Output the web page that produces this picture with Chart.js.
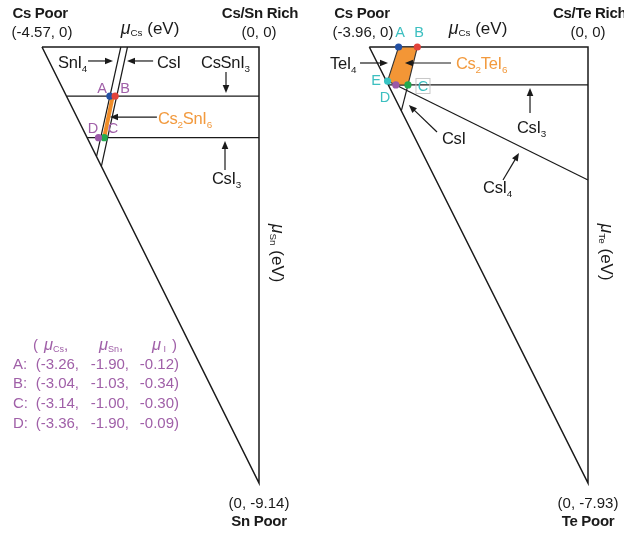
<!DOCTYPE html>
<html><head><meta charset="utf-8">
<script src="https://cdn.jsdelivr.net/npm/chart.js@4/dist/chart.umd.min.js"></script>
<style>
html,body{margin:0;padding:0;background:#fff;}
#wrap{display:flex;width:624px;height:533px;}
canvas{display:block;}
</style></head><body>
<div id="wrap"><canvas id="c1" width="312" height="533"></canvas><canvas id="c2" width="312" height="533"></canvas></div>
<script>
// ---------------- Cs-Sn-I panel (eV) ----------------
const snRangeCs = [-4.57, 0];
const snRangeSn = [-9.14, 0];
const snTriangleX = [-4.57, 0, 0, -4.57];
const snTriangleY = [0, 0, -9.14, 0];
const snCsSnI3LineX = [-4.05, 0];
const snCsSnI3LineY = [-1.03, -1.03];
const snCsI3LineX = [-3.62, 0];
const snCsI3LineY = [-1.90, -1.90];
const snSnI4LineX = [-2.91, -3.42];
const snSnI4LineY = [0, -2.29];
const snCsILineX = [-2.77, -3.32];
const snCsILineY = [0, -2.50];
const snStableX = [-3.26, -3.08];
const snStableY = [-1.90, -1.03];
const snPointNames = ['A', 'B', 'C', 'D'];
const snPointX = [-3.14, -3.03, -3.26, -3.38];
const snPointY = [-1.03, -1.03, -1.90, -1.90];
const snTableCs = ['-3.26', '-3.04', '-3.14', '-3.36'];
const snTableSn = ['-1.90', '-1.03', '-1.00', '-1.90'];
const snTableI = ['-0.12', '-0.34', '-0.30', '-0.09'];

// ---------------- Cs-Te-I panel (eV) ----------------
const teRangeCs = [-3.96, 0];
const teRangeTe = [-7.93, 0];
const teTriangleX = [-3.96, 0, 0, -3.96];
const teTriangleY = [0, 0, -7.93, 0];
const teCsI3LineX = [-3.615, 0];
const teCsI3LineY = [-0.69, -0.69];
const teCsILineX = [-3.26, -3.38];
const teCsILineY = [-0.69, -1.16];
const teCsI4LineX = [-3.48, 0];
const teCsI4LineY = [-0.69, -2.42];
const tePointNames = ['A', 'B', 'C', 'D', 'E'];
const tePointCs = [-3.43, -3.09, -3.26, -3.48, -3.63];
const tePointTe = [0.00, 0.00, -0.69, -0.69, -0.62];
const tePointI = [-0.18, -0.29, -0.12, -0.04, -0.01];

// ---------------- styling ----------------
const FONT = '"Liberation Sans", Arial, Helvetica, sans-serif';
const INK = '#1a1a1a';
const ORANGE = '#f29a3e';
const PURPLE = '#a060a8';
const TEAL = '#3cbfc0';
const DOT = {A: '#2350a3', B: '#e2433a', C: '#22aa4e', D: '#9b59a8', E: '#36c3c3'};

function pts(xs, ys) { return xs.map((x, i) => ({x: x, y: ys[i]})); }
function lineDS(xs, ys, color, width, order) {
  return {data: pts(xs, ys), showLine: true, borderColor: color, borderWidth: width,
    pointRadius: 0, fill: false, clip: false, tension: 0, order: order};
}
function pointDS(xs, ys, names, order) {
  return {data: pts(xs, ys), showLine: false, pointRadius: 3.6, pointBorderWidth: 0,
    pointBackgroundColor: names.map(n => DOT[n]), pointBorderColor: names.map(n => DOT[n]),
    clip: false, order: order};
}

function fontStr(size, bold, ital) {
  return (ital ? 'italic ' : '') + (bold ? 'bold ' : '') + size + 'px ' + FONT;
}
function parseRich(s) {
  const segs = []; let buf = ''; let i = 0;
  const push = (t, sub) => { if (t) segs.push({t: t, sub: sub}); };
  while (i < s.length) {
    const ch = s[i];
    if (ch === '_') {
      push(buf, false); buf = '';
      if (s[i + 1] === '{') { const j = s.indexOf('}', i); push(s.slice(i + 2, j), true); i = j + 1; }
      else { push(s[i + 1], true); i += 2; }
      continue;
    }
    buf += ch; i++;
  }
  push(buf, false);
  return segs;
}
function drawRich(ctx, s, x, y, opt) {
  const o = Object.assign({size: 15, bold: false, color: INK, align: 'center', subScale: 0.6,
    subDy: 0.26, spacing: '-0.3px', muScale: 1.05}, opt || {});
  ctx.save();
  try { ctx.letterSpacing = o.spacing; } catch (e) {}
  const pieces = [];
  parseRich(s).forEach(seg => {
    if (seg.sub) pieces.push({t: seg.t, size: o.size * o.subScale, dy: o.size * o.subDy, ital: false});
    else seg.t.split(/(μ)/).forEach(p => {
      if (p) pieces.push({t: p, size: p === 'μ' ? o.size * o.muScale : o.size, dy: 0, ital: p === 'μ'});
    });
  });
  let w = 0;
  pieces.forEach(p => { ctx.font = fontStr(p.size, o.bold, p.ital); p.w = ctx.measureText(p.t).width; w += p.w; });
  let cx = o.align === 'center' ? x - w / 2 : (o.align === 'right' ? x - w : x);
  const base = y + o.size * 0.36;
  ctx.fillStyle = o.color; ctx.textBaseline = 'alphabetic'; ctx.textAlign = 'left';
  pieces.forEach(p => { ctx.font = fontStr(p.size, o.bold, p.ital); ctx.fillText(p.t, cx, base + p.dy); cx += p.w; });
  ctx.restore();
  return w;
}
function drawArrow(ctx, x1, y1, x2, y2) {
  const a = Math.atan2(y2 - y1, x2 - x1), L = 8, W = 3.3;
  ctx.save();
  ctx.strokeStyle = INK; ctx.fillStyle = INK; ctx.lineWidth = 1.2;
  ctx.beginPath(); ctx.moveTo(x1, y1); ctx.lineTo(x2 - Math.cos(a) * L * 0.7, y2 - Math.sin(a) * L * 0.7); ctx.stroke();
  ctx.beginPath(); ctx.moveTo(x2, y2);
  ctx.lineTo(x2 - L * Math.cos(a) + W * Math.sin(a), y2 - L * Math.sin(a) - W * Math.cos(a));
  ctx.lineTo(x2 - L * Math.cos(a) - W * Math.sin(a), y2 - L * Math.sin(a) + W * Math.cos(a));
  ctx.closePath(); ctx.fill();
  ctx.restore();
}

// annotation plugin (texts & arrows placed in data units)
function annotPlugin(spec) {
  return {
    id: 'annot',
    afterDatasetsDraw(chart) {
      const ctx = chart.ctx, X = chart.scales.x, Y = chart.scales.y;
      const px = v => X.getPixelForValue(v), py = v => Y.getPixelForValue(v);
      spec.arrows.forEach(a => drawArrow(ctx, px(a[0]), py(a[1]), px(a[2]), py(a[3])));
      spec.texts.forEach(t => {
        const o = Object.assign({}, t.o || {});
        if (t.box) {
          ctx.save(); ctx.strokeStyle = '#c8c8c8'; ctx.lineWidth = 1;
          ctx.strokeRect(px(t.x) - 7, py(t.y) - 7.5, 14, 15); ctx.restore();
        }
        if (t.rot) {
          ctx.save(); ctx.translate(px(t.x), py(t.y)); ctx.rotate(Math.PI / 2);
          drawRich(ctx, t.s, 0, 0, o); ctx.restore();
        } else drawRich(ctx, t.s, px(t.x), py(t.y), o);
      });
      spec.table(ctx);
    }
  };
}

const TITLE = {bold: true, size: 15};
const COORD = {size: 15, spacing: '0px'};
const AXIS = {size: 17, subScale: 0.58, subDy: 0.1, spacing: '0px'};
const LAB = {size: 16.5, align: 'left'};
const PLAB = {size: 14.5, spacing: '0px'};

function drawTable(ctx, color, headX, head, rowLabelX, colRight, rows) {
  const hs = {size: 15, align: 'left', color: color, subScale: 0.6, subDy: 0.12, spacing: '0px', muScale: 1.1};
  head.forEach((h, i) => drawRich(ctx, h, headX[i], 345, hs));
  rows.forEach((r, k) => {
    const y = 363.3 + k * 19.6;
    drawRich(ctx, r[0] + ':', rowLabelX, y, {size: 15, align: 'left', color: color, spacing: '0px'});
    for (let c = 1; c < r.length; c++)
      drawRich(ctx, r[c], colRight[c - 1], y, {size: 15, align: 'right', color: color, spacing: '0px'});
  });
}

const snSpec = {
  texts: [
    {s: 'Cs Poor', x: -4.61, y: 0.713, o: TITLE},
    {s: '(-4.57, 0)', x: -4.57, y: 0.314, o: COORD},
    {s: 'μ_{Cs} (eV)', x: -2.295, y: 0.398, o: AXIS},
    {s: 'Cs/Sn Rich', x: 0.02, y: 0.713, o: TITLE},
    {s: '(0, 0)', x: 0, y: 0.314, o: COORD},
    {s: 'SnI_4', x: -4.233, y: -0.314, o: LAB},
    {s: 'CsI', x: -2.148, y: -0.314, o: LAB},
    {s: 'CsSnI_3', x: -1.221, y: -0.314, o: LAB},
    {s: 'A', x: -3.306, y: -0.86, o: Object.assign({color: PURPLE}, PLAB)},
    {s: 'B', x: -2.822, y: -0.86, o: Object.assign({color: PURPLE}, PLAB)},
    {s: 'Cs_2SnI_6', x: -2.127, y: -1.488, o: Object.assign({color: ORANGE}, LAB)},
    {s: 'D', x: -3.496, y: -1.698, o: Object.assign({color: PURPLE}, PLAB)},
    {s: 'C', x: -3.075, y: -1.698, o: Object.assign({color: PURPLE}, PLAB)},
    {s: 'CsI_3', x: -0.99, y: -2.746, o: LAB},
    {s: 'μ_{Sn} (eV)', x: 0.4, y: -4.32, rot: true, o: AXIS},
    {s: '(0, -9.14)', x: 0, y: -9.56, o: COORD},
    {s: 'Sn Poor', x: 0, y: -9.937, o: TITLE}
  ],
  arrows: [
    [-3.60, -0.293, -3.075, -0.293],
    [-2.23, -0.293, -2.78, -0.293],
    [-0.695, -0.524, -0.695, -0.964],
    [-2.15, -1.468, -3.138, -1.468],
    [-0.716, -2.579, -0.716, -1.971]
  ],
  table(ctx) {
    drawTable(ctx, PURPLE, [33, 44, 99, 152, 172],
      ['(', 'μ_{Cs},', 'μ_{Sn},', 'μ_{ I}', ')'], 13, [79, 129, 179],
      snPointNames.map((n, i) => [n, '(' + snTableCs[i] + ',', snTableSn[i] + ',', snTableI[i] + ')']));
  }
};

const teSpec = {
  texts: [
    {s: 'Cs Poor', x: -4.092, y: 0.618, o: TITLE},
    {s: '(-3.96, 0)', x: -4.074, y: 0.273, o: COORD},
    {s: 'A', x: -3.404, y: 0.273, o: Object.assign({color: TEAL}, PLAB)},
    {s: 'B', x: -3.06, y: 0.273, o: Object.assign({color: TEAL}, PLAB)},
    {s: 'μ_{Cs} (eV)', x: -1.992, y: 0.346, o: AXIS},
    {s: 'Cs/Te Rich', x: 0.03, y: 0.618, o: TITLE},
    {s: '(0, 0)', x: 0, y: 0.273, o: COORD},
    {s: 'TeI_4', x: -4.672, y: -0.291, o: LAB},
    {s: 'Cs_2TeI_6', x: -2.39, y: -0.291, o: Object.assign({color: ORANGE}, LAB)},
    {s: 'E', x: -3.839, y: -0.6, o: Object.assign({color: TEAL}, PLAB)},
    {s: 'D', x: -3.676, y: -0.909, o: Object.assign({color: TEAL}, PLAB)},
    {s: 'C', x: -2.988, y: -0.709, box: true, o: Object.assign({color: TEAL}, PLAB)},
    {s: 'CsI', x: -2.644, y: -1.655, o: LAB},
    {s: 'CsI_3', x: -1.286, y: -1.455, o: LAB},
    {s: 'CsI_4', x: -1.901, y: -2.546, o: LAB},
    {s: 'μ_{Te} (eV)', x: 0.34, y: -3.73, rot: true, o: AXIS},
    {s: '(0, -7.93)', x: 0, y: -8.294, o: COORD},
    {s: 'Te Poor', x: 0, y: -8.621, o: TITLE}
  ],
  arrows: [
    [-4.128, -0.291, -3.621, -0.291],
    [-2.481, -0.291, -3.315, -0.291],
    [-2.734, -1.546, -3.243, -1.055],
    [-1.05, -1.2, -1.05, -0.746],
    [-1.539, -2.419, -1.25, -1.928]
  ],
  table(ctx) {
    drawTable(ctx, TEAL, [367, 374, 427, 479, 499],
      ['(', 'μ_{Cs},', 'μ_{Te},', 'μ_{ I}', ')'], 340, [405, 450, 506],
      tePointNames.map((n, i) => [n, '(' + tePointCs[i].toFixed(2) + ',', tePointTe[i].toFixed(2) + ',', tePointI[i].toFixed(2) + ')']));
  }
};

function baseOptions(xr, yr, pad) {
  return {
    responsive: false, animation: false, devicePixelRatio: 1, events: [],
    layout: {padding: pad},
    plugins: {legend: {display: false}, tooltip: {enabled: false}},
    scales: {
      x: {type: 'linear', min: xr[0], max: xr[1], display: false},
      y: {type: 'linear', min: yr[0], max: yr[1], display: false}
    }
  };
}

new Chart(document.getElementById('c1'), {
  type: 'scatter',
  data: {datasets: [
    pointDS(snPointX, snPointY, snPointNames, 0),
    lineDS(snStableX, snStableY, '#f08c28', 4, 1),
    lineDS(snTriangleX, snTriangleY, INK, 1.5, 3),
    lineDS(snCsSnI3LineX, snCsSnI3LineY, INK, 1.3, 2),
    lineDS(snCsI3LineX, snCsI3LineY, INK, 1.3, 2),
    lineDS(snSnI4LineX, snSnI4LineY, INK, 1.2, 2),
    lineDS(snCsILineX, snCsILineY, INK, 1.2, 2)
  ]},
  options: baseOptions(snRangeCs, snRangeSn, {left: 42, right: 53, top: 47, bottom: 50}),
  plugins: [annotPlugin(snSpec)]
});

const teOrder = ['A', 'B', 'C', 'D', 'E', 'A'];
const tePolyX = teOrder.map(n => tePointCs[tePointNames.indexOf(n)]);
const tePolyY = teOrder.map(n => tePointTe[tePointNames.indexOf(n)]);
const tePoly = lineDS(tePolyX, tePolyY, '#333', 1.1, 1);
tePoly.fill = 'shape';
tePoly.backgroundColor = '#f39636';

new Chart(document.getElementById('c2'), {
  type: 'scatter',
  data: {datasets: [
    pointDS(tePointCs, tePointTe, tePointNames, 0),
    tePoly,
    lineDS(teTriangleX, teTriangleY, INK, 1.5, 3),
    lineDS(teCsI3LineX, teCsI3LineY, INK, 1.3, 2),
    lineDS(teCsILineX, teCsILineY, INK, 1.2, 2),
    lineDS(teCsI4LineX, teCsI4LineY, INK, 1.2, 2)
  ]},
  options: baseOptions(teRangeCs, teRangeTe, {left: 57.3, right: 36, top: 47, bottom: 50}),
  plugins: [annotPlugin(teSpec)]
});
</script>
</body></html>
